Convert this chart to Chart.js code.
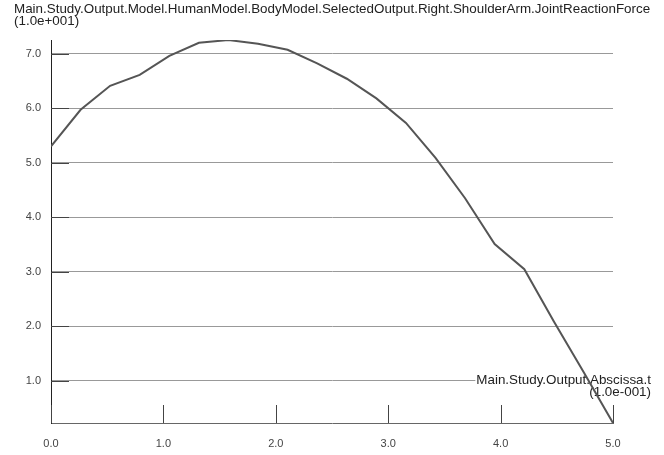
<!DOCTYPE html>
<html>
<head>
<meta charset="utf-8">
<script src="https://cdn.jsdelivr.net/npm/chart.js@4.4.1/dist/chart.umd.min.js"></script>
<style>
  html, body { margin: 0; padding: 0; background: #fff; }
  #wrap { width: 664px; height: 455px; }
</style>
</head>
<body>
<div id="wrap"><canvas id="chart"></canvas></div>
<script>
// time (1.0e-001) and joint reaction force (1.0e+001)
const timeSteps = [0, 0.263, 0.526, 0.789, 1.053, 1.316, 1.579, 1.842, 2.105, 2.368,
                   2.632, 2.895, 3.158, 3.421, 3.684, 3.947, 4.211, 4.474, 4.737, 5.0];
const forceValues = [5.30, 5.97, 6.41, 6.61, 6.96, 7.20, 7.25, 7.18, 7.07, 6.82,
                     6.54, 6.18, 5.73, 5.09, 4.35, 3.51, 3.05, 2.09, 1.17, 0.23];

const xTickValues = [0, 1, 2, 3, 4, 5];
const yTickValues = [1, 2, 3, 4, 5, 6, 7];

const yTitleLines = ['Main.Study.Output.Model.HumanModel.BodyModel.SelectedOutput.Right.ShoulderArm.JointReactionForce', '(1.0e+001)'];
const xTitleLines = ['Main.Study.Output.Abscissa.t', '(1.0e-001)'];

const FONT = '"Liberation Sans", Arial, sans-serif';
const TICK_LEN = 18;

const points = timeSteps.map((t, i) => ({ x: t, y: forceValues[i] }));

// axis names: ordinate name on top, abscissa name at the right end
const axisNamesPlugin = {
    id: 'axisNames',
    beforeDatasetsDraw(chart) {
        const { ctx, chartArea } = chart;
        ctx.save();
        ctx.font = '13.4px ' + FONT;
        ctx.textAlign = 'right';
        ctx.textBaseline = 'alphabetic';
        const right = chartArea.right + 38;
        const w = ctx.measureText(xTitleLines[0]).width;
        ctx.fillStyle = '#fff';
        ctx.fillRect(right - w - 1, chartArea.bottom - 51, w + 2, 13);
        ctx.fillStyle = '#222';
        ctx.fillText(xTitleLines[0], right, chartArea.bottom - 39);
        ctx.fillText(xTitleLines[1], right, chartArea.bottom - 27);

        ctx.textAlign = 'left';
        ctx.fillText(yTitleLines[0], 14, 13);
        ctx.fillText(yTitleLines[1], 14, 25);
        ctx.restore();
    },
    afterDraw(chart) {
        // short inner tick marks on both axes
        const { ctx, scales, chartArea } = chart;
        ctx.save();
        ctx.strokeStyle = '#444';
        ctx.lineWidth = 1;
        ctx.beginPath();
        yTickValues.forEach(v => {
            const y = Math.round(scales.y.getPixelForValue(v)) + 0.5;
            ctx.moveTo(chartArea.left, y);
            ctx.lineTo(chartArea.left + TICK_LEN, y);
        });
        xTickValues.forEach(v => {
            const x = Math.round(scales.x.getPixelForValue(v)) + 0.5;
            ctx.moveTo(x, chartArea.bottom);
            ctx.lineTo(x, chartArea.bottom - TICK_LEN);
        });
        ctx.stroke();
        ctx.restore();
    }
};

new Chart(document.getElementById('chart'), {
    type: 'scatter',
    data: {
        datasets: [{
            label: 'JointReactionForce',
            data: points,
            showLine: true,
            borderColor: '#555',
            borderWidth: 2,
            pointRadius: 0,
            tension: 0,
            fill: false
        }]
    },
    options: {
        responsive: true,
        maintainAspectRatio: false,
        animation: false,
        layout: { padding: { top: 40, right: 51, left: 0, bottom: 0 } },
        plugins: {
            legend: { display: false },
            tooltip: { enabled: false }
        },
        scales: {
            x: {
                type: 'linear',
                min: 0,
                max: 5,
                afterBuildTicks: s => { s.ticks = xTickValues.map(v => ({ value: v })); },
                afterFit: s => { s.height = 32; },
                grid: { display: false, drawTicks: false },
                border: { display: true, color: '#666', width: 1 },
                ticks: {
                    padding: 14,
                    color: '#444',
                    font: { family: FONT, size: 11 },
                    callback: v => v.toFixed(1),
                    maxRotation: 0
                }
            },
            y: {
                type: 'linear',
                min: Math.min(...forceValues),
                max: Math.max(...forceValues),
                afterBuildTicks: s => { s.ticks = yTickValues.map(v => ({ value: v })); },
                afterFit: s => { s.width = 51; },
                grid: { display: true, color: '#999', lineWidth: 1, drawTicks: false },
                border: { display: true, color: '#222', width: 1 },
                ticks: {
                    padding: 10,
                    color: '#444',
                    font: { family: FONT, size: 11 },
                    callback: v => v.toFixed(1)
                }
            }
        }
    },
    plugins: [axisNamesPlugin]
});
</script>
</body>
</html>
